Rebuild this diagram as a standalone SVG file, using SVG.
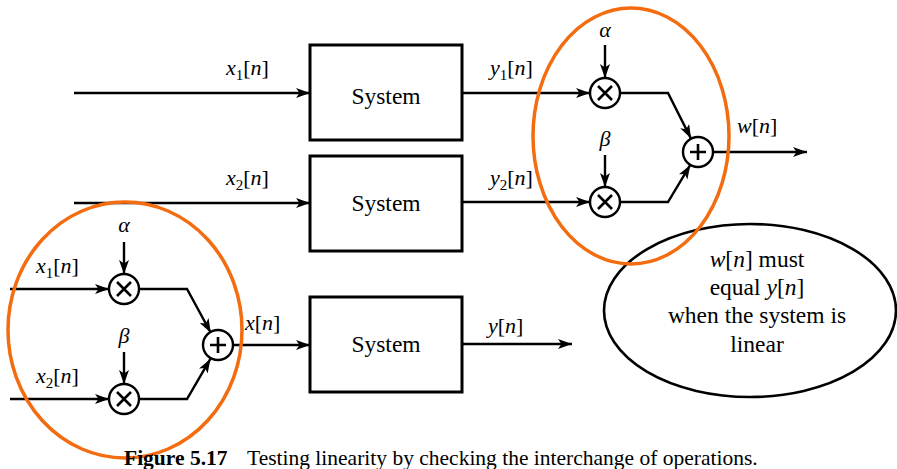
<svg xmlns="http://www.w3.org/2000/svg" width="897" height="469" viewBox="0 0 897 469">
<defs>
<marker id="ah" markerUnits="userSpaceOnUse" markerWidth="16" markerHeight="12" refX="14" refY="5" orient="auto">
<path d="M0,0 L14,5 L0,10 L3.5,5 z" fill="#000"/>
</marker>
<style>
.ln{fill:none;stroke:#000;stroke-width:2.4;stroke-linejoin:miter}
.ar{marker-end:url(#ah)}
.box{fill:#fff;stroke:#000;stroke-width:3}
.op{fill:#fff;stroke:#000;stroke-width:2.4}
.sym{stroke:#000;stroke-width:2.6;fill:none}
.t{font-family:"Liberation Serif","Times New Roman",serif;font-size:22px;fill:#000}
.sys{font-family:"Liberation Serif","Times New Roman",serif;font-size:23.5px;fill:#000;text-anchor:middle}
.i{font-style:italic}
.sub{font-size:15px}
.org{fill:none;stroke:#F36C10;stroke-width:3.5}
.note{font-family:"Liberation Serif","Times New Roman",serif;font-size:23.5px;fill:#000;text-anchor:middle}
.cap{font-family:"Liberation Serif","Times New Roman",serif;font-size:21.5px;fill:#000}
</style>
</defs>
<rect width="897" height="469" fill="#fff"/>

<g id="connectors">
<path class="ln ar" d="M74,93 H310"/>
<path class="ln ar" d="M74,203 H310"/>
<path class="ln ar" d="M462,93 H590"/>
<path class="ln ar" d="M462,202 H590"/>
<path class="ln ar" d="M605,45 V78"/>
<path class="ln ar" d="M605,155 V187"/>
<path class="ln ar" d="M620,93 H668 L691,138.6"/>
<path class="ln ar" d="M620,202 H668 L690.3,164.9"/>
<path class="ln ar" d="M713,152 H807"/>
<path class="ln ar" d="M10,289 H109"/>
<path class="ln ar" d="M10,399 H109"/>
<path class="ln ar" d="M124,242 V274"/>
<path class="ln ar" d="M124,352 V384"/>
<path class="ln ar" d="M139,289 H187 L210.8,332.8"/>
<path class="ln ar" d="M139,399 H187 L210.4,358.9"/>
<path class="ln ar" d="M233,345 H310"/>
<path class="ln ar" d="M462,344 H572"/>
</g>

<g id="system1"><rect class="box" x="310" y="45" width="152" height="95"/><text class="sys" x="386" y="104">System</text></g>
<g id="system2"><rect class="box" x="310" y="156" width="152" height="95"/><text class="sys" x="386" y="211">System</text></g>
<g id="system3"><rect class="box" x="310" y="297" width="152" height="95"/><text class="sys" x="386" y="352">System</text></g>

<g id="mult1"><circle class="op" cx="605" cy="93" r="15"/><path class="sym" d="M598,86 L612,100 M612,86 L598,100"/></g>
<g id="mult2"><circle class="op" cx="605" cy="202" r="15"/><path class="sym" d="M598,195 L612,209 M612,195 L598,209"/></g>
<g id="add1"><circle class="op" cx="698" cy="152" r="15"/><path class="sym" d="M690,152 H706 M698,144 V160"/></g>
<g id="mult3"><circle class="op" cx="124" cy="289" r="15"/><path class="sym" d="M117,282 L131,296 M131,282 L117,296"/></g>
<g id="mult4"><circle class="op" cx="124" cy="399" r="15"/><path class="sym" d="M117,392 L131,406 M131,392 L117,406"/></g>
<g id="add2"><circle class="op" cx="218" cy="345" r="15"/><path class="sym" d="M210,345 H226 M218,337 V353"/></g>

<g id="labels">
<text class="t" x="226" y="75"><tspan class="i">x</tspan><tspan class="sub" dy="5">1</tspan><tspan dy="-5">[</tspan><tspan class="i">n</tspan>]</text>
<text class="t" x="490" y="75"><tspan class="i">y</tspan><tspan class="sub" dy="5">1</tspan><tspan dy="-5">[</tspan><tspan class="i">n</tspan>]</text>
<text class="t" x="226" y="185"><tspan class="i">x</tspan><tspan class="sub" dy="5">2</tspan><tspan dy="-5">[</tspan><tspan class="i">n</tspan>]</text>
<text class="t" x="490" y="185"><tspan class="i">y</tspan><tspan class="sub" dy="5">2</tspan><tspan dy="-5">[</tspan><tspan class="i">n</tspan>]</text>
<text class="t i" x="605" y="37" text-anchor="middle">α</text>
<text class="t i" x="605" y="146" text-anchor="middle">β</text>
<text class="t" x="737" y="133"><tspan class="i">w</tspan>[<tspan class="i">n</tspan>]</text>
<text class="t i" x="124" y="232" text-anchor="middle">α</text>
<text class="t i" x="124" y="343" text-anchor="middle">β</text>
<text class="t" x="36" y="273"><tspan class="i">x</tspan><tspan class="sub" dy="5">1</tspan><tspan dy="-5">[</tspan><tspan class="i">n</tspan>]</text>
<text class="t" x="36" y="383"><tspan class="i">x</tspan><tspan class="sub" dy="5">2</tspan><tspan dy="-5">[</tspan><tspan class="i">n</tspan>]</text>
<text class="t" x="245" y="330"><tspan class="i">x</tspan>[<tspan class="i">n</tspan>]</text>
<text class="t" x="488" y="333"><tspan class="i">y</tspan>[<tspan class="i">n</tspan>]</text>
</g>

<g id="note">
<ellipse cx="750" cy="310.5" rx="146" ry="86.5" fill="none" stroke="#000" stroke-width="2.6"/>
<text class="note" x="757" y="267"><tspan class="i">w</tspan>[<tspan class="i">n</tspan>] must</text>
<text class="note" x="757" y="295">equal <tspan class="i">y</tspan>[<tspan class="i">n</tspan>]</text>
<text class="note" x="757" y="323">when the system is</text>
<text class="note" x="757" y="352">linear</text>
</g>

<g id="highlights">
<ellipse class="org" cx="631" cy="136" rx="98" ry="128"/>
<ellipse class="org" cx="125" cy="330" rx="117" ry="128"/>
</g>

<g id="caption">
<text class="cap" x="124" y="465"><tspan font-weight="bold">Figure 5.17</tspan><tspan x="247">Testing linearity by checking the interchange of operations.</tspan></text>
</g>
</svg>
